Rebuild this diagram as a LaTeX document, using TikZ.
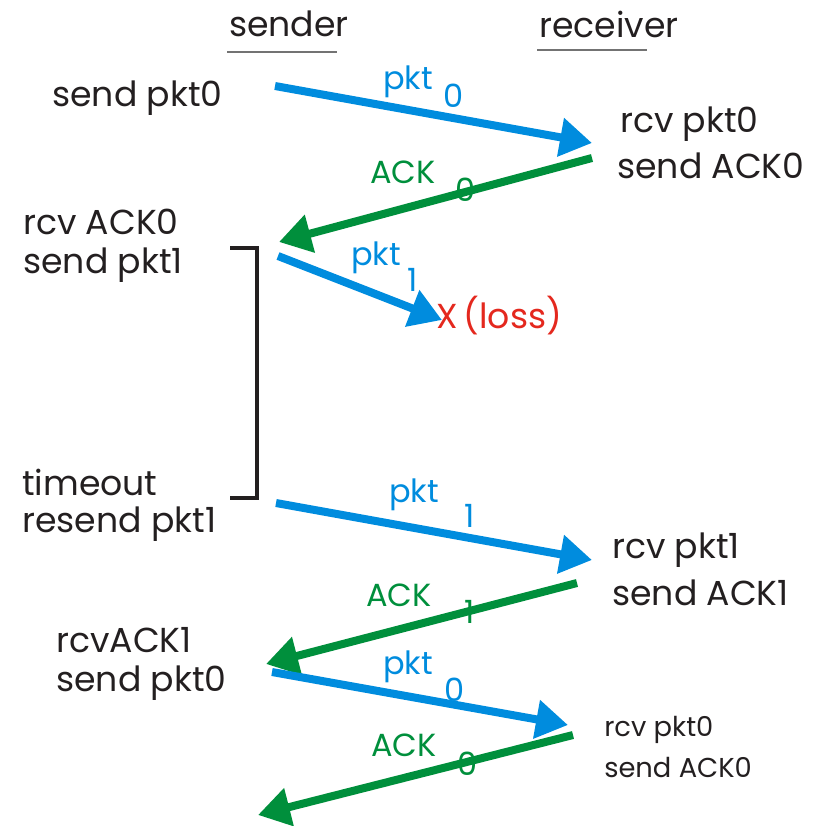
\documentclass[tikz,border=0pt]{standalone}
\usepackage{fontspec}
\setmainfont{Poppins}
\usetikzlibrary{arrows.meta}
\definecolor{pblue}{RGB}{0,140,222}
\definecolor{agreen}{RGB}{0,143,60}
\definecolor{lred}{RGB}{228,40,30}
\definecolor{ink}{RGB}{35,31,32}
\tikzset{
  txt/.style={font=\fontsize{26}{30}\selectfont, text=ink, inner sep=0pt, anchor=west},
  head/.style={font=\fontsize{26}{30}\selectfont, text=ink, inner sep=0pt, anchor=center},
  small/.style={font=\fontsize{20.5}{24}\selectfont, text=ink, inner sep=0pt, anchor=west},
  lab/.style={font=\fontsize{24}{28}\selectfont, inner sep=0pt},
  pktarrow/.style={draw=pblue, line width=6pt, -{Triangle[length=24pt,width=28pt]}},
  ackarrow/.style={draw=agreen, line width=6pt, -{Triangle[length=24pt,width=28pt]}},
  hrule/.style={draw=black!55, line width=1.2pt},
  bracket/.style={draw=ink, line width=3pt}
}
\begin{document}
\begin{tikzpicture}[x=0.75pt,y=-0.75pt]
\useasboundingbox (0,0) rectangle (827,825);
% headings
\node[head] (hs) at (289,24) {sender};
\node[head] (hr) at (609,24) {receiver};
\coordinate (u1a) at (227,52); \coordinate (u1b) at (337,52);
\coordinate (u2a) at (537,50); \coordinate (u2b) at (647,50);
\draw[hrule] (u1a) -- (u1b);
\draw[hrule] (u2a) -- (u2b);
% left texts
\node[txt] (t1) at (52,98) {send pkt0};
\node[txt] (t2) at (23,222) {rcv ACK0};
\node[txt] (t3) at (23,265) {send pkt1};
\node[txt] (t4) at (22,482) {timeout};
\node[txt] (t5) at (22,524) {resend pkt1};
\node[txt] (t6) at (56,640) {rcvACK1};
\node[txt] (t7) at (56,683) {send pkt0};
% right texts
\node[txt] (r1) at (620,124) {rcv pkt0};
\node[txt] (r2) at (617,166) {send ACK0};
\node[txt] (r3) at (612,550) {rcv pkt1};
\node[txt] (r4) at (612,593) {send ACK1};
\node[small] (r5) at (604,730) {rcv pkt0};
\node[small] (r6) at (604,767) {send ACK0};
% loss
\node[font=\fontsize{26}{30}\selectfont,text=lred,inner sep=0pt,anchor=west] (loss) at (436,316) {X\,(loss)};
% bracket
\coordinate (b1) at (230,248);
\coordinate (b2) at (257,248);
\coordinate (b3) at (257,498);
\coordinate (b4) at (230,498);
\draw[bracket] (b1) -- (b2) -- (b3) -- (b4);
% arrow endpoints
\coordinate (a1s) at (275,86);   \coordinate (a1e) at (592,143);
\coordinate (a2s) at (592,158);  \coordinate (a2e) at (279,242);
\coordinate (a3s) at (278,256);  \coordinate (a3e) at (442,320);
\coordinate (a4s) at (276,503);  \coordinate (a4e) at (592,560);
\coordinate (a5s) at (577,583);  \coordinate (a5e) at (266,664);
\coordinate (a6s) at (272,672);  \coordinate (a6e) at (568,725);
\coordinate (a7s) at (573,735);  \coordinate (a7e) at (258,815);
\draw[pktarrow] (a1s) -- (a1e);
\draw[ackarrow] (a2s) -- (a2e);
\draw[pktarrow] (a3s) -- (a3e);
\draw[pktarrow] (a4s) -- (a4e);
\draw[ackarrow] (a5s) -- (a5e);
\draw[pktarrow] (a6s) -- (a6e);
\draw[ackarrow] (a7s) -- (a7e);
% labels
\node[lab,text=pblue] (l1) at (408,82) {pkt};
\node[lab,text=pblue] (l1n) at (454,96) {0};
\node[lab,text=agreen] (l2) at (403,172) {ACK};
\node[lab,text=agreen] (l2n) at (466,190) {0};
\node[lab,text=pblue] (l3) at (376,258) {pkt};
\node[lab,text=pblue] (l3n) at (413,280) {1};
\node[lab,text=pblue] (l4) at (414,495) {pkt};
\node[lab,text=pblue] (l4n) at (470,516) {1};
\node[lab,text=agreen] (l5) at (399,595) {ACK};
\node[lab,text=agreen] (l5n) at (470,612) {1};
\node[lab,text=pblue] (l6) at (408,667) {pkt};
\node[lab,text=pblue] (l6n) at (455,690) {0};
\node[lab,text=agreen] (l7) at (404,745) {ACK};
\node[lab,text=agreen] (l7n) at (468,764) {0};
\end{tikzpicture}
\end{document}
